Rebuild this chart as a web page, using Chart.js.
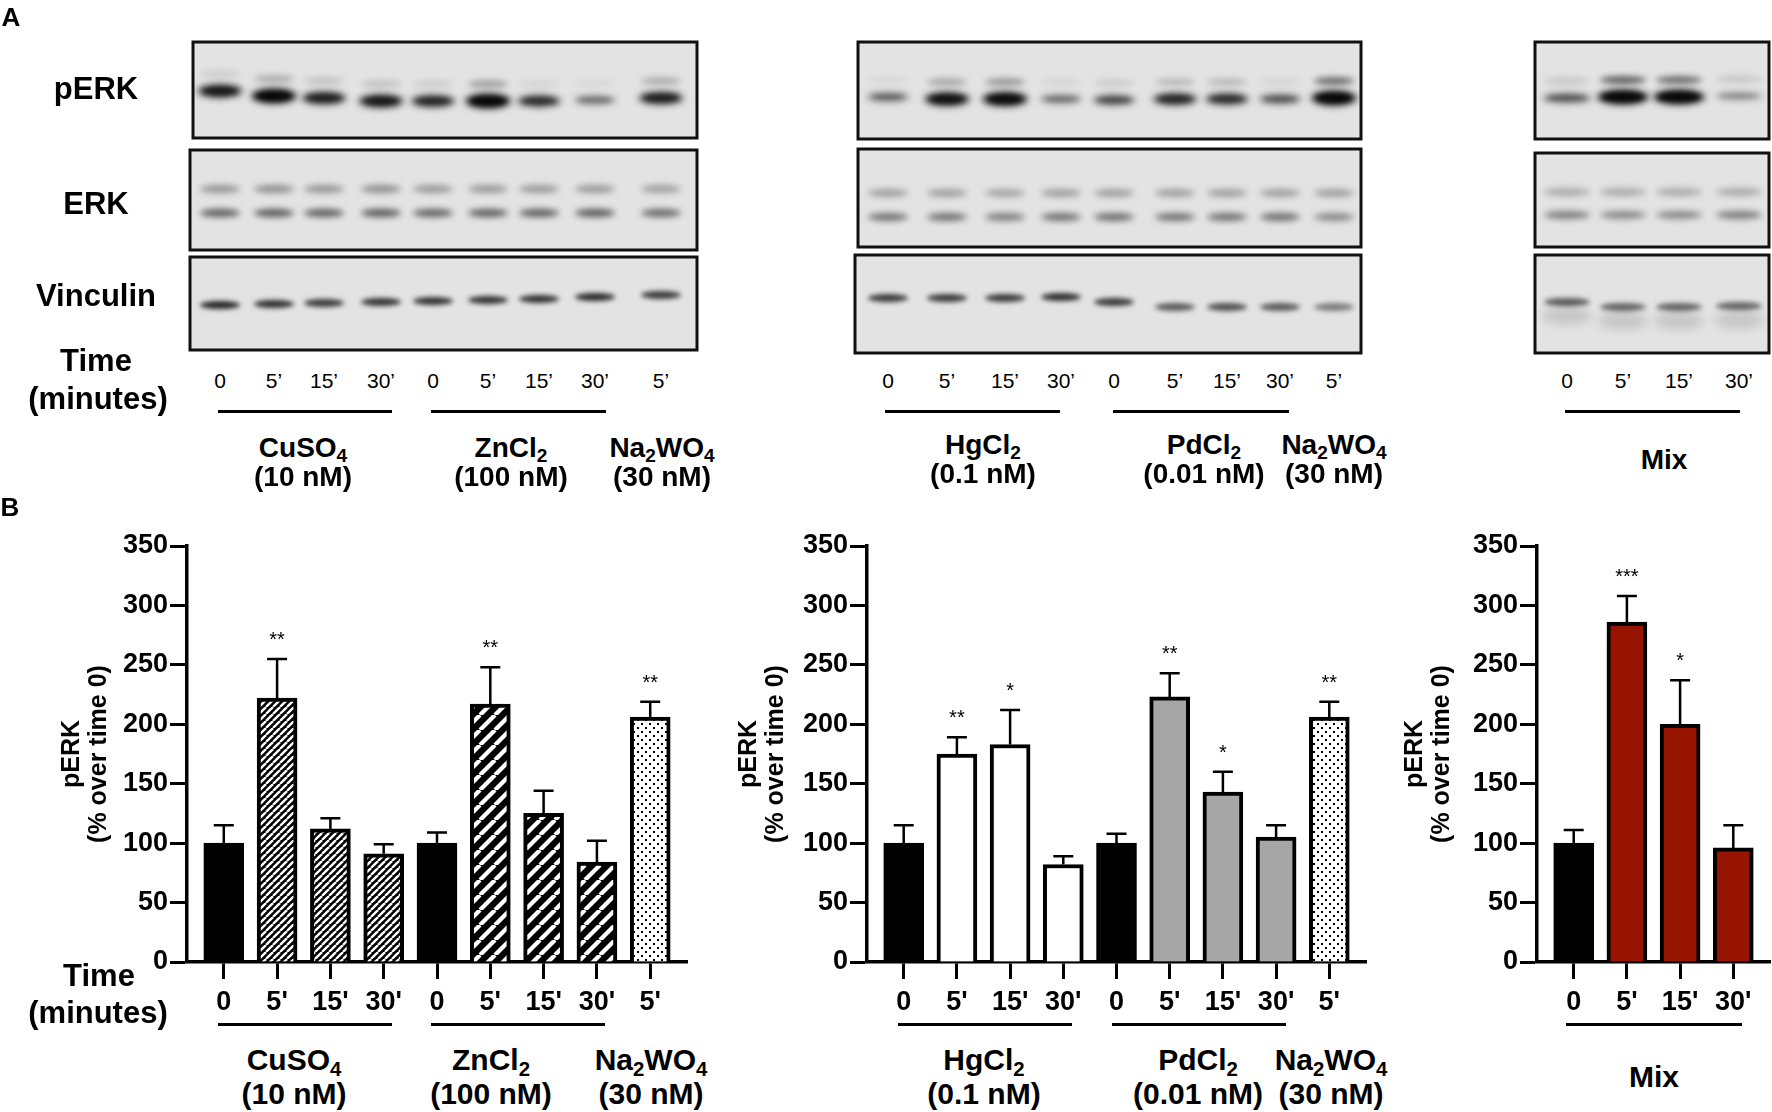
<!DOCTYPE html>
<html>
<head>
<meta charset="utf-8">
<title>pERK time course</title>
<script src="https://cdn.jsdelivr.net/npm/chart.js@4.4.1/dist/chart.umd.min.js"></script>
<style>
  html, body { margin: 0; padding: 0; background: #fff; }
  #page { position: relative; width: 1772px; height: 1112px; overflow: hidden;
          font-family: "Liberation Sans", Arial, sans-serif; color: #000; }
  canvas { position: absolute; }
  .lbl { position: absolute; transform: translate(-50%, -50%); white-space: nowrap; line-height: 1; }
  .b { font-weight: bold; }
  sub { font-size: 0.68em; vertical-align: -0.28em; line-height: 0; }
  .hline { position: absolute; height: 3px; background: #000; }
</style>
</head>
<body>
<div id="page">
  <canvas id="blots" width="1772" height="360" style="left:0;top:0"></canvas>
  <canvas id="chart1" width="700" height="530" style="left:0;top:490px"></canvas>
  <canvas id="chart2" width="690" height="530" style="left:700px;top:490px"></canvas>
  <canvas id="chart3" width="382" height="530" style="left:1390px;top:490px"></canvas>
</div>
<script>
// ---- chart data ----
var timeLabels9 = ["0", "5'", "15'", "30'", "0", "5'", "15'", "30'", "5'"];
var timeLabels4 = ["0", "5'", "15'", "30'"];

var metalsA = [100, 222, 112, 91, 100, 217, 125, 84, 206];
var metalsAErr = [15, 33, 9, 8, 9, 31, 19, 18, 13];
var metalsAStars = ["", "**", "", "", "", "**", "", "", "**"];

var metalsB = [100, 175, 183, 82, 100, 223, 143, 105, 206];
var metalsBErr = [15, 14, 29, 7, 8, 20, 17, 10, 13];
var metalsBStars = ["", "**", "*", "", "", "**", "*", "", "**"];

var mixVals = [100, 286, 200, 96];
var mixErr = [11, 22, 37, 19];
var mixStars = ["", "***", "*", ""];

var yTicks = [0, 50, 100, 150, 200, 250, 300, 350];

// ---- blot band intensities (0..1) ----
var p1pERK = [0.85, 1.0, 0.8, 0.85, 0.75, 1.0, 0.7, 0.4, 0.8];
var p1pERKup = [0.08, 0.2, 0.12, 0.12, 0.08, 0.25, 0.05, 0.04, 0.2];
var p1ERKup = [0.35, 0.38, 0.35, 0.38, 0.33, 0.33, 0.33, 0.33, 0.3];
var p1ERKlo = [0.6, 0.62, 0.6, 0.62, 0.58, 0.6, 0.6, 0.62, 0.55];
var p1Vin = [0.85, 0.8, 0.75, 0.78, 0.78, 0.78, 0.78, 0.82, 0.75];

var p2pERK = [0.45, 0.9, 0.95, 0.4, 0.55, 0.75, 0.7, 0.5, 1.0];
var p2pERKup = [0.04, 0.22, 0.28, 0.05, 0.08, 0.15, 0.15, 0.05, 0.45];
var p2ERKup = [0.3, 0.3, 0.28, 0.3, 0.3, 0.3, 0.3, 0.3, 0.3];
var p2ERKlo = [0.5, 0.5, 0.45, 0.5, 0.52, 0.5, 0.5, 0.52, 0.4];
var p2Vin = [0.75, 0.75, 0.75, 0.8, 0.75, 0.6, 0.65, 0.6, 0.45];

var p3pERK = [0.5, 1.0, 1.0, 0.3];
var p3pERKup = [0.1, 0.5, 0.45, 0.1];
var p3ERKup = [0.25, 0.25, 0.25, 0.25];
var p3ERKlo = [0.45, 0.4, 0.4, 0.45];
var p3Vin = [0.6, 0.55, 0.55, 0.55];

var page = document.getElementById("page");

function label(x, y, html, size, bold) {
	var d = document.createElement("div");
	d.className = "lbl" + (bold ? " b" : "");
	d.style.left = x + "px";
	d.style.top = y + "px";
	d.style.fontSize = size + "px";
	d.innerHTML = html;
	page.appendChild(d);
}
function hline(x0, x1, y) {
	var d = document.createElement("div");
	d.className = "hline";
	d.style.left = x0 + "px";
	d.style.width = (x1 - x0) + "px";
	d.style.top = (y - 1.5) + "px";
	page.appendChild(d);
}

// ---- part A: blots ----
var bctx = document.getElementById("blots").getContext("2d");

function band(x, y, w, h, a, blur) {
	bctx.save();
	bctx.filter = "blur(" + blur + "px)";
	bctx.fillStyle = "rgba(0,0,0," + Math.min(a, 1) + ")";
	bctx.beginPath();
	bctx.ellipse(x, y, w / 2, h / 2, 0, 0, Math.PI * 2);
	bctx.fill();
	bctx.restore();
}

function blotBox(box, draw) {
	var x0 = box[0], y0 = box[1], x1 = box[2], y1 = box[3];
	bctx.save();
	bctx.fillStyle = "#e3e3e3";
	bctx.fillRect(x0, y0, x1 - x0, y1 - y0);
	bctx.beginPath();
	bctx.rect(x0, y0, x1 - x0, y1 - y0);
	bctx.clip();
	draw();
	bctx.restore();
	bctx.lineWidth = 3;
	bctx.strokeStyle = "#111";
	bctx.strokeRect(x0, y0, x1 - x0, y1 - y0);
}

function drawPanel(p) {
	blotBox(p.boxes[0], function () {
		p.lanes.forEach(function (x, i) {
			band(x, p.pY[i] - 17, p.bw, 7, p.pUp[i] * 1.3, 3);
			var a = p.pMain[i];
			band(x, p.pY[i], p.bw + a * 6, 6 + a * 9, a * 0.9, 3.5);
			band(x, p.pY[i], p.bw - 6, 3 + a * 6, a * 0.7, 2.5);
		});
	});
	blotBox(p.boxes[1], function () {
		p.lanes.forEach(function (x, i) {
			band(x, p.eY[0], p.bw, 8, p.eUp[i], 3);
			band(x, p.eY[1], p.bw, 8, p.eLo[i], 3);
		});
	});
	blotBox(p.boxes[2], function () {
		p.lanes.forEach(function (x, i) {
			band(x, p.vY[i], p.bw, 8, p.vin[i], 2.5);
			if (p.smear) band(x, p.vY[i] + 14, p.bw + 4, 18, 0.12, 5);
		});
	});
}

var panels = [
	{
		boxes: [[193, 42, 697, 138], [190, 150, 697, 250], [190, 257, 697, 350]],
		lanes: [220, 274, 324, 381, 433, 488, 539, 595, 661], bw: 40,
		pY: [91, 96, 98, 101, 101, 101, 101, 100, 98], pMain: p1pERK, pUp: p1pERKup,
		eY: [189, 213], eUp: p1ERKup, eLo: p1ERKlo,
		vY: [305, 304, 303, 302, 301, 300, 299, 297, 295], vin: p1Vin,
		times: timeLabels9
	},
	{
		boxes: [[858, 42, 1361, 139], [858, 149, 1361, 247], [855, 255, 1361, 353]],
		lanes: [888, 947, 1005, 1061, 1114, 1175, 1227, 1280, 1334], bw: 40,
		pY: [97, 99, 99, 99, 100, 99, 99, 99, 98], pMain: p2pERK, pUp: p2pERKup,
		eY: [193, 217], eUp: p2ERKup, eLo: p2ERKlo,
		vY: [298, 298, 298, 297, 302, 307, 307, 307, 307], vin: p2Vin,
		times: timeLabels9
	},
	{
		boxes: [[1535, 42, 1769, 139], [1535, 153, 1769, 247], [1535, 255, 1769, 353]],
		lanes: [1567, 1623, 1679, 1739], bw: 46,
		pY: [98, 97, 97, 96], pMain: p3pERK, pUp: p3pERKup,
		eY: [192, 215], eUp: p3ERKup, eLo: p3ERKlo,
		vY: [302, 307, 307, 306], vin: p3Vin, smear: true,
		times: timeLabels4
	}
];

panels.forEach(function (p) {
	drawPanel(p);
	p.lanes.forEach(function (x, i) {
		label(x, 380, p.times[i].replace("'", "\u2019"), 21, false);
	});
});

label(11, 17, "A", 26, true);
label(96, 88, "pERK", 31, true);
label(96, 203, "ERK", 31, true);
label(96, 295, "Vinculin", 31, true);
label(96, 360, "Time", 31, true);
label(98, 398, "(minutes)", 31, true);

[[218, 392], [431, 606], [885, 1060], [1113, 1289], [1565, 1740]].forEach(function (l) {
	hline(l[0], l[1], 411);
});
label(303, 448, "CuSO<sub>4</sub>", 28, true);
label(303, 477, "(10 nM)", 28, true);
label(511, 448, "ZnCl<sub>2</sub>", 28, true);
label(511, 477, "(100 nM)", 28, true);
label(662, 448, "Na<sub>2</sub>WO<sub>4</sub>", 28, true);
label(662, 477, "(30 nM)", 28, true);
label(983, 445, "HgCl<sub>2</sub>", 28, true);
label(983, 474, "(0.1 nM)", 28, true);
label(1204, 445, "PdCl<sub>2</sub>", 28, true);
label(1204, 474, "(0.01 nM)", 28, true);
label(1334, 445, "Na<sub>2</sub>WO<sub>4</sub>", 28, true);
label(1334, 474, "(30 nM)", 28, true);
label(1664, 460, "Mix", 28, true);

// ---- part B: bar charts ----
function pattern(size, draw) {
	var c = document.createElement("canvas");
	c.width = size;
	c.height = size;
	var g = c.getContext("2d");
	draw(g, size);
	return bctx.createPattern(c, "repeat");
}
function hatch(size, white) {
	return pattern(size, function (g, s) {
		g.fillStyle = "#000";
		g.fillRect(0, 0, s, s);
		g.strokeStyle = "#fff";
		g.lineWidth = white;
		for (var k = -1; k <= 1; k++) {
			g.beginPath();
			g.moveTo(k * s, s);
			g.lineTo(k * s + s, 0);
			g.stroke();
		}
	});
}
var fineHatch = hatch(7, 2.4);
var wideHatch = hatch(15, 4.2);
var dots = pattern(8, function (g, s) {
	g.fillStyle = "#fff";
	g.fillRect(0, 0, s, s);
	g.fillStyle = "#000";
	g.fillRect(1, 1, 2, 2);
	g.fillRect(5, 5, 2, 2);
});
var black = "#000", white = "#fff", grey = "#a6a6a6", red = "#961400";

var fillsA = [black, fineHatch, fineHatch, fineHatch, black, wideHatch, wideHatch, wideHatch, dots];
var fillsB = [black, white, white, white, black, grey, grey, grey, dots];
var fillsMix = [black, red, red, red];

var errorBars = {
	id: "errorBars",
	afterDatasetsDraw: function (chart, args, opts) {
		var ctx = chart.ctx, y = chart.scales.y;
		var vals = chart.data.datasets[0].data;
		ctx.save();
		ctx.strokeStyle = "#000";
		ctx.fillStyle = "#000";
		ctx.lineWidth = 2.5;
		ctx.font = "20px 'Liberation Sans', Arial, sans-serif";
		ctx.textAlign = "center";
		ctx.textBaseline = "alphabetic";
		chart.getDatasetMeta(0).data.forEach(function (bar, i) {
			var cap = y.getPixelForValue(vals[i].y + opts.errs[i]);
			ctx.beginPath();
			ctx.moveTo(bar.x, bar.y);
			ctx.lineTo(bar.x, cap);
			ctx.moveTo(bar.x - 10, cap);
			ctx.lineTo(bar.x + 10, cap);
			ctx.stroke();
			if (opts.stars[i]) ctx.fillText(opts.stars[i], bar.x, cap - 13);
		});
		ctx.restore();
	}
};

var tickFont = { family: "'Liberation Sans', Arial, sans-serif", size: 27, weight: "bold" };

function barChart(id, labels, vals, errs, stars, fills, lay) {
	var ctx = document.getElementById(id).getContext("2d");
	return new Chart(ctx, {
		type: "bar",
		data: {
			datasets: [{
				data: vals.map(function (v, i) { return { x: i, y: v }; }),
				backgroundColor: fills,
				borderColor: "#000",
				borderWidth: 4,
				barThickness: 40
			}]
		},
		options: {
			responsive: false,
			animation: false,
			layout: { padding: { left: 0, top: lay.padTop, right: lay.padRight, bottom: 0 } },
			plugins: {
				legend: { display: false },
				tooltip: { enabled: false },
				errorBars: { errs: errs, stars: stars }
			},
			scales: {
				x: {
					type: "linear",
					min: -0.69,
					max: labels.length - 1 + 0.69,
					offset: false,
					grid: { display: true, offset: false, drawOnChartArea: false, drawTicks: true,
						tickLength: 17, tickWidth: 3, tickColor: "#000" },
					border: { display: true, color: "#000", width: 3.5 },
					ticks: {
						color: "#000", font: tickFont, padding: 7, autoSkip: false, maxRotation: 0,
						callback: function (v) { return labels[Math.round(v)]; }
					},
					afterBuildTicks: function (s) {
						s.ticks = labels.map(function (l, i) { return { value: i }; });
					},
					afterFit: function (s) { s.height = lay.xHeight; }
				},
				y: {
					min: 0,
					max: 350,
					grid: { display: true, drawOnChartArea: false, drawTicks: true,
						tickLength: 17, tickWidth: 3, tickColor: "#000" },
					border: { display: true, color: "#000", width: 3.5 },
					ticks: { color: "#000", font: tickFont, padding: 2, stepSize: 50 },
					afterBuildTicks: function (s) {
						s.ticks = yTicks.map(function (v) { return { value: v }; });
					},
					title: {
						display: true,
						text: ["pERK", "(% over time 0)"],
						color: "#000",
						font: { family: "'Liberation Sans', Arial, sans-serif", size: 25, weight: "bold", lineHeight: 1.08 },
						padding: { top: lay.titlePad, bottom: 0 }
					},
					afterFit: function (s) { s.width = lay.yWidth; }
				}
			}
		},
		plugins: [errorBars]
	});
}

barChart("chart1", timeLabels9, metalsA, metalsAErr, metalsAStars, fillsA,
	{ padTop: 56, padRight: 13, xHeight: 58, yWidth: 187, titlePad: 59 });
barChart("chart2", timeLabels9, metalsB, metalsBErr, metalsBStars, fillsB,
	{ padTop: 56, padRight: 24, xHeight: 58, yWidth: 167, titlePad: 36 });
barChart("chart3", timeLabels4, mixVals, mixErr, mixStars, fillsMix,
	{ padTop: 56, padRight: 2, xHeight: 58, yWidth: 147, titlePad: 12 });

label(10, 507, "B", 26, true);
label(99, 975, "Time", 31, true);
label(98, 1012, "(minutes)", 31, true);
[[218, 392], [431, 605], [898, 1072], [1112, 1286], [1566, 1742]].forEach(function (l) {
	hline(l[0], l[1], 1024);
});
label(294, 1060, "CuSO<sub>4</sub>", 30, true);
label(294, 1094, "(10 nM)", 30, true);
label(491, 1060, "ZnCl<sub>2</sub>", 30, true);
label(491, 1094, "(100 nM)", 30, true);
label(651, 1060, "Na<sub>2</sub>WO<sub>4</sub>", 30, true);
label(651, 1094, "(30 nM)", 30, true);
label(984, 1060, "HgCl<sub>2</sub>", 30, true);
label(984, 1094, "(0.1 nM)", 30, true);
label(1198, 1060, "PdCl<sub>2</sub>", 30, true);
label(1198, 1094, "(0.01 nM)", 30, true);
label(1331, 1060, "Na<sub>2</sub>WO<sub>4</sub>", 30, true);
label(1331, 1094, "(30 nM)", 30, true);
label(1654, 1077, "Mix", 30, true);
</script>
</body>
</html>
